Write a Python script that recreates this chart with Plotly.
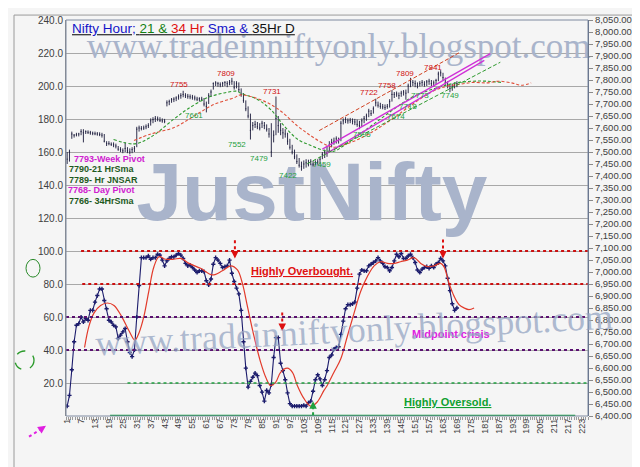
import plotly.graph_objects as go

# ---- data ----
# oscillator (left axis, 0-100), one value per hourly bar
osc_values = [
    6, 12.5, 28, 45, 55, 56, 60, 57, 59, 58,
    64, 64, 69, 73, 77, 77, 70, 65, 58, 57,
    55, 54, 47, 49, 51, 53, 45, 38.5, 36, 40,
    60, 79, 96, 96, 96, 97, 95, 96, 96, 98,
    97.5, 94.5, 91, 94, 95.5, 96.5, 96.5, 97.5, 98.5, 97.5,
    95.5, 92.5, 91, 91.5, 90, 88.5, 87, 88, 88, 87.5,
    82, 79.5, 83, 92, 96, 94.5, 92.5, 90, 90.5, 91,
    94.5, 86.5, 81.5, 77.5, 74, 64, 45, 29, 17.5, 21,
    23.5, 26, 24.5, 18.5, 14.5, 9, 15.5, 14, 19, 35.5,
    47.5, 47.5, 32, 27.5, 22, 14, 7.5, 6, 6, 6,
    6, 6, 6.5, 6, 8, 9, 15, 22, 25, 22.5,
    18.5, 22, 27.5, 35.5, 37, 40.5, 41.5, 42, 49.5, 57.5,
    65, 67.5, 67.5, 68, 69, 77.5, 86, 88.5, 88, 88,
    91, 92, 93, 94, 96, 94, 92.5, 90.5, 90, 88,
    90, 94, 98, 96.5, 98.5, 95.5, 95.5, 97, 98, 96,
    93, 88.5, 87, 89, 90, 90.5, 89.5, 91, 90, 92,
    93, 95.5, 94, 91, 83.5, 76, 68, 64, 65.5,
]

# smoothed signal of the oscillator (red line)
sig_x = [8.5, 10.4, 12.6, 15.4, 18.3, 21.2, 24.8, 27.7, 30.2, 32, 34.1, 36.3, 38.4,
         40.6, 43.5, 47, 49.9, 53.5, 58.5, 63.6, 67.9, 71.5, 74.4, 76.5, 78.7, 81.5,
         84.4, 86.6, 88.7, 90.9, 93, 95.9, 98.1, 100.2, 103.1, 106, 108.8, 111.7,
         113.1, 116, 118.9, 121.8, 124.7, 127.5, 130.4, 133.3, 136.1, 139, 141.9,
         144.7, 147.6, 150.5, 153.4, 156.3, 159.1, 162, 163.4, 165.6, 167.8, 169.9,
         172.1, 174.2, 176.4]
sig_y = [41.5, 54.5, 62.5, 67, 68.5, 67, 59.5, 51.5, 46, 50.5, 60.5, 76.5, 90.5,
         96.5, 95, 95, 95.5, 92.5, 89.5, 85.5, 88, 91, 88.5, 80.5, 66.5, 48.5,
         32.5, 23.5, 18.5, 20.5, 26.5, 29, 26.5, 18.5, 10.5, 6, 8.5, 15.5,
         18.5, 26.5, 34.5, 48.5, 62.5, 75.5, 84.5, 91, 93.5, 92.5, 92.5,
         93.5, 94.5, 96, 92.5, 90.5, 91, 92.5, 90.5, 80.5, 72.5, 67.5,
         65.5, 64.5, 65.5]

# Nifty hourly bars (right axis)
bar_high = [
    7500, 7510, 7585, 7575, 7580, 7580, 7595, 7595, 7590, 7590,
    7588, 7585, 7585, 7583, 7582, 7580, 7575, 7545, 7545, 7540,
    7540, 7535, 7525, 7520, 7515, 7540, 7520, 7515, 7520, 7525,
    7605, 7610, 7608, 7610, 7615, 7620, 7640, 7645, 7650, 7648,
    7645, 7640, 7638, 7715, 7718, 7725, 7728, 7732, 7740, 7745,
    7755, 7745, 7742, 7740, 7738, 7735, 7730, 7728, 7730, 7725,
    7710, 7745, 7760, 7790, 7795, 7792, 7790, 7792, 7795, 7795,
    7800, 7809, 7795, 7795, 7790, 7765, 7745, 7715, 7690, 7660,
    7625, 7630, 7625, 7620, 7630, 7625, 7615, 7600, 7620, 7590,
    7731, 7650, 7620, 7600, 7595, 7580, 7555, 7530, 7510, 7490,
    7475, 7460, 7465, 7470, 7468, 7470, 7462, 7465, 7470, 7480,
    7500, 7510, 7525, 7545, 7555, 7560, 7565, 7560, 7630, 7640,
    7645, 7640, 7642, 7640, 7638, 7635, 7630, 7640, 7650, 7660,
    7680, 7675, 7690, 7722, 7710, 7705, 7700, 7698, 7700, 7720,
    7758, 7750, 7752, 7748, 7755, 7758, 7760, 7785, 7809, 7800,
    7798, 7790, 7795, 7800, 7795, 7800, 7805, 7800, 7798, 7805,
    7835, 7841, 7830, 7810, 7795, 7780, 7785, 7790, 7795,
]
bar_low = [
    7450, 7460, 7555, 7560, 7565, 7565, 7570, 7540, 7575, 7575,
    7572, 7570, 7570, 7568, 7566, 7560, 7540, 7525, 7528, 7525,
    7520, 7515, 7505, 7500, 7495, 7500, 7495, 7490, 7495, 7500,
    7520, 7585, 7590, 7592, 7595, 7600, 7610, 7620, 7625, 7628,
    7625, 7622, 7620, 7690, 7695, 7705, 7708, 7712, 7718, 7722,
    7728, 7725, 7722, 7720, 7718, 7715, 7712, 7710, 7712, 7690,
    7665, 7700, 7730, 7760, 7775, 7772, 7770, 7772, 7775, 7770,
    7778, 7780, 7760, 7765, 7750, 7730, 7705, 7670, 7640, 7552,
    7590, 7600, 7595, 7590, 7600, 7595, 7585, 7560, 7479, 7540,
    7570, 7580, 7570, 7555, 7560, 7530, 7510, 7490, 7470, 7450,
    7435, 7422, 7430, 7435, 7440, 7445, 7440, 7445, 7448, 7450,
    7470, 7475, 7480, 7500, 7520, 7530, 7535, 7535, 7545, 7615,
    7620, 7618, 7620, 7615, 7612, 7605, 7595, 7605, 7620, 7630,
    7645, 7650, 7660, 7690, 7685, 7680, 7678, 7675, 7680, 7685,
    7710, 7725, 7730, 7720, 7730, 7735, 7718, 7745, 7770, 7775,
    7770, 7765, 7773, 7775, 7772, 7775, 7780, 7775, 7772, 7780,
    7795, 7815, 7800, 7780, 7765, 7749, 7755, 7765, 7770,
]
bar_close = [
    7470, 7500, 7575, 7570, 7572, 7575, 7585, 7580, 7585, 7582,
    7580, 7578, 7576, 7575, 7573, 7570, 7545, 7535, 7535, 7532,
    7530, 7525, 7512, 7510, 7505, 7515, 7505, 7500, 7510, 7515,
    7595, 7600, 7598, 7600, 7605, 7610, 7630, 7635, 7640, 7638,
    7632, 7630, 7628, 7705, 7710, 7718, 7720, 7725, 7730, 7735,
    7740, 7735, 7732, 7730, 7728, 7725, 7720, 7722, 7720, 7700,
    7690, 7735, 7750, 7785, 7788, 7785, 7780, 7786, 7790, 7785,
    7790, 7795, 7770, 7785, 7760, 7740, 7715, 7680, 7650, 7590,
    7610, 7615, 7605, 7600, 7620, 7610, 7595, 7575, 7500, 7570,
    7640, 7610, 7590, 7580, 7575, 7545, 7520, 7500, 7480, 7460,
    7445, 7440, 7450, 7455, 7450, 7460, 7450, 7455, 7458, 7470,
    7490, 7500, 7495, 7530, 7540, 7545, 7555, 7550, 7620, 7630,
    7635, 7630, 7632, 7628, 7625, 7615, 7610, 7630, 7640, 7650,
    7670, 7660, 7680, 7705, 7695, 7690, 7688, 7685, 7690, 7710,
    7740, 7740, 7742, 7735, 7745, 7750, 7745, 7775, 7795, 7790,
    7785, 7775, 7785, 7790, 7782, 7792, 7795, 7785, 7788, 7798,
    7825, 7830, 7810, 7790, 7775, 7765, 7775, 7780, 7785,
]

# 21 Hr SMA (green dashed) and 34 Hr SMA / 35Hr displaced (red)
sma21_x = [21, 29.9, 36.9, 47, 52.8, 61.4, 68.6, 74.3, 75.6, 83, 88.6, 94.5, 100.2,
           105.8, 111.7, 116, 120, 128, 135, 142, 150, 158, 165, 170, 176, 182, 188]
sma21_y = [7552, 7534, 7561, 7637, 7678, 7726, 7746, 7753, 7746, 7719, 7678, 7609, 7554,
           7528, 7507, 7503, 7525, 7580, 7630, 7680, 7730, 7760, 7780, 7790, 7795, 7795, 7790]
sma34_x = [29.8, 37, 47.1, 55.7, 64.3, 72.9, 75.8, 85.9, 93, 100.2, 106, 111.7, 116,
           122, 130, 140, 150, 158, 165, 170, 176, 182, 187, 193, 197, 201]
sma34_y = [7548, 7575, 7602, 7650, 7698, 7726, 7738, 7712, 7671, 7609, 7568, 7534, 7520,
           7535, 7570, 7630, 7700, 7750, 7775, 7782, 7790, 7788, 7795, 7787, 7778, 7788]

# trend channel end points (bar number, price)
chan_red_x, chan_red_y = [109.6, 170.6], [7589, 7917]
chan_mag1_x, chan_mag1_y = [111, 183.4], [7512, 7910]
chan_mag2_x, chan_mag2_y = [112.3, 180.8], [7491, 7882]
chan_grn_x, chan_grn_y = [104.5, 187.7], [7451, 7874]

# swing labels
high_labels = ["7755", "7809", "7731", "7722", "7758", "7809", "7841"]
high_pos = [(49.4, 7783), (69.6, 7828), (89.4, 7754), (131.3, 7746), (139, 7779),
            (146.8, 7828), (158.8, 7853)]
low_labels = ["7661", "7552", "7479", "7422", "7459", "7595", "7674", "7718", "7773", "7749"]
low_pos = [(55.8, 7652), (74.4, 7533), (83.8, 7471), (96.3, 7401), (111, 7446),
           (128.2, 7574), (142.9, 7648), (148, 7689), (153.2, 7734), (166.2, 7734)]

level_lines = [100, 80, 60, 40, 20, 0]
bar_no = list(range(1, len(osc_values) + 1))
x_ticks = list(range(1, 224, 6))

# ---- figure ----
W, H = 640, 467
ML, MR, MT, MB = 58, 60, 6, 59
PW, PH = W - ML - MR, H - MT - MB


def px2x(px):
    return (px - ML) / PW


def px2y(py):
    return (H - MB - py) / PH


WM = "#a9b4cb"
NAVY = "#1c1c6c"
SANS = "Liberation Sans, Arial"
SERIF = "Liberation Serif, Times New Roman"

fig = go.Figure()

# watermarks under the data
fig.add_trace(go.Scatter(
    x=[106.5], y=[131], mode="text", text=["JustNifty"], cliponaxis=False,
    textfont=dict(family=SANS, size=82, color=WM, weight="bold"),
    hoverinfo="skip", showlegend=False))
fig.add_trace(go.Scatter(
    x=[118], y=[222], mode="text", text=["www.tradeinniftyonly.blogspot.com"], cliponaxis=False,
    textfont=dict(family=SERIF, size=35, color=WM),
    hoverinfo="skip", showlegend=False))

# price bars
fig.add_trace(go.Ohlc(
    x=bar_no, open=bar_close, high=bar_high, low=bar_low, close=bar_close,
    yaxis="y2", tickwidth=0.25,
    increasing=dict(line=dict(color="#1a1a3a", width=0.9)),
    decreasing=dict(line=dict(color="#1a1a3a", width=0.9)),
    hoverinfo="skip", showlegend=False))

line_specs = [
    (sma21_x, sma21_y, "#2e9a2e", "3px,2px", 1.1),
    (sma34_x, sma34_y, "#e0503a", "3px,2px", 1.1),
    (chan_red_x, chan_red_y, "#d04020", "4px,2px", 1),
    (chan_mag1_x, chan_mag1_y, "#d030d8", "solid", 1.3),
    (chan_mag2_x, chan_mag2_y, "#d030d8", "solid", 1.3),
    (chan_grn_x, chan_grn_y, "#2e9a2e", "4px,2px", 1),
]
for lx, ly, col, dash, w in line_specs:
    fig.add_trace(go.Scatter(
        x=lx, y=ly, yaxis="y2", mode="lines",
        line=dict(color=col, dash=dash, width=w, shape="spline"),
        hoverinfo="skip", showlegend=False))

# oscillator + signal
fig.add_trace(go.Scatter(
    x=bar_no, y=osc_values, mode="lines+markers",
    line=dict(color=NAVY, width=1.1),
    marker=dict(symbol="cross", size=3.5, color=NAVY),
    hoverinfo="skip", showlegend=False))
fig.add_trace(go.Scatter(
    x=sig_x, y=sig_y, mode="lines",
    line=dict(color="#e23a2a", width=1.2, shape="spline"),
    hoverinfo="skip", showlegend=False))

# horizontal level lines in the oscillator pane
level_style = {
    100: ("#cc1010", "dot", 7, 225.5, 2),
    80: ("#cc1010", "dot", 7.5, 225.5, 2),
    60: ("#5a1070", "dot", 0.5, 225.5, 2),
    40: ("#5a1070", "dot", 0.5, 225.5, 2),
    20: ("#20a040", "dot", 27, 225.5, 1.6),
    0: ("#10a040", "solid", 19.5, 220, 2.5),
}
shapes = []
for lv in level_lines:
    col, dash, x0, x1, w = level_style[lv]
    shapes.append(dict(type="line", xref="x", yref="y", x0=x0, x1=x1, y0=lv, y1=lv,
                       line=dict(color=col, dash=dash, width=w)))

# arrows (dotted shafts)
for ax_, y0, y1, col in [(73.3, 106.5, 97, "#dd1010"), (93.7, 62.7, 53, "#dd1010"),
                         (163, 107, 97, "#dd1010"), (107, 0.5, 7.5, "#20a040")]:
    shapes.append(dict(type="line", xref="x", yref="y", x0=ax_, x1=ax_, y0=y0, y1=y1,
                       line=dict(color=col, dash="dot", width=2)))

# plot frame and outer chart frame
shapes.append(dict(type="rect", xref="paper", yref="paper", x0=0, x1=1, y0=0, y1=1,
                   line=dict(color="#7f8aa0", width=1)))
shapes.append(dict(type="rect", xref="paper", yref="paper",
                   x0=px2x(6), x1=px2x(634), y0=px2y(465), y1=px2y(1),
                   line=dict(color="#9a9a9a", width=1)))
# left-margin marks
shapes.append(dict(type="circle", xref="paper", yref="paper",
                   x0=px2x(18), x1=px2x(32), y0=px2y(267), y1=px2y(249),
                   line=dict(color="#2a8a2a", width=1)))
shapes.append(dict(type="circle", xref="paper", yref="paper",
                   x0=px2x(7), x1=px2x(26), y0=px2y(361), y1=px2y(342),
                   line=dict(color="#2a9a2a", width=1.3, dash="dash")))
shapes.append(dict(type="line", xref="paper", yref="paper",
                   x0=px2x(21), x1=px2x(35), y0=px2y(429), y1=px2y(420),
                   line=dict(color="#e020e0", width=2, dash="dot")))

ann = []
title_html = ("<u><span style='color:#1414c8'>Nifty Hour; </span>"
              "<span style='color:#128012'>21 &amp; </span>"
              "<span style='color:#e01010'>34 Hr </span>"
              "<span style='color:#1414c8'>Sma &amp; </span>"
              "<span style='color:#111111'>35Hr D</span></u>")
ann.append(dict(x=px2x(62), y=px2y(15), xref="paper", yref="paper", text=title_html,
                showarrow=False, xanchor="left", yanchor="middle",
                font=dict(family=SANS, size=13.5)))

for t, (bx, pv) in zip(high_labels, high_pos):
    ann.append(dict(x=bx, y=pv, xref="x", yref="y2", text=t, showarrow=False,
                    font=dict(family=SANS, size=8, color="#d01010")))
for t, (bx, pv) in zip(low_labels, low_pos):
    ann.append(dict(x=bx, y=pv, xref="x", yref="y2", text=t, showarrow=False,
                    font=dict(family=SANS, size=8, color="#1ea040")))

side_notes = [
    ("7793-Week Pivot", 64, 147, "#d020d0"),
    ("7790-21 HrSma", 59, 157, "#1e5a1e"),
    ("7789- Hr JNSAR", 59, 168, "#1e5a1e"),
    ("7768- Day Pivot", 58, 179, "#d020d0"),
    ("7766- 34HrSma", 59, 190, "#1e5a1e"),
]
for t, px, py, col in side_notes:
    ann.append(dict(x=px2x(px), y=px2y(py), xref="paper", yref="paper", text="<b>" + t + "</b>",
                    showarrow=False, xanchor="left", yanchor="middle",
                    font=dict(family=SANS, size=9, color=col)))

zone_notes = [
    ("<u><b>Highly Overbought.</b></u>", 102.4, 88, "#e01010"),
    ("<b>Midpoint crisis</b>", 166.6, 49.5, "#e020e0"),
    ("<u><b>Highly Oversold.</b></u>", 164.8, 8.7, "#10a030"),
]
for t, bx, v, col in zone_notes:
    ann.append(dict(x=bx, y=v, xref="x", yref="y", text=t, showarrow=False,
                    font=dict(family=SANS, size=11, color=col)))

# arrow heads
for ax_, tip, dy, col in [(73.3, 95.5, -8, "#dd1010"), (93.7, 51.5, -8, "#dd1010"),
                          (163, 95.5, -8, "#dd1010"), (107, 9, 8, "#20a040")]:
    ann.append(dict(x=ax_, y=tip, xref="x", yref="y", ax=0, ay=dy, text="", showarrow=True,
                    arrowhead=2, arrowsize=1, arrowwidth=1.5, arrowcolor=col))
ann.append(dict(x=px2x(38), y=px2y(418), xref="paper", yref="paper", ax=-6, ay=4, text="",
                showarrow=True, arrowhead=2, arrowsize=1, arrowwidth=1.6, arrowcolor="#e020e0"))

# tilted lower watermark
ann.append(dict(x=px2x(346), y=px2y(357), xref="paper", yref="paper",
                text="www.tradeinniftyonly.blogspot.com", showarrow=False, textangle=-3,
                font=dict(family=SERIF, size=36, color="rgba(150,165,195,0.75)")))

fig.update_layout(
    width=W, height=H,
    margin=dict(l=ML, r=MR, t=MT, b=MB),
    paper_bgcolor="#f5f5f5", plot_bgcolor="#f5f5f5",
    showlegend=False,
    shapes=shapes, annotations=ann,
    font=dict(family=SANS, size=10, color="#404040"),
    xaxis=dict(range=[0.5, 225.5], tickvals=x_ticks, tickangle=-90, showgrid=False,
               zeroline=False, showline=False, ticks="", tickfont=dict(size=9),
               minor=dict(dtick=1, tick0=0.5, ticks="outside", ticklen=3, tickcolor="#9a9a9a"),
               rangeslider=dict(visible=False)),
    yaxis=dict(range=[0, 240], tickvals=list(range(20, 241, 20)),
               ticktext=[f"{v:.1f}" for v in range(20, 241, 20)],
               showgrid=True, gridcolor="#a8a8a8", gridwidth=1, zeroline=False,
               showline=True, linecolor="#8a8a8a", ticks=""),
    yaxis2=dict(range=[6400, 8050], dtick=50, tickformat=",.2f", overlaying="y", side="right",
                showgrid=False, zeroline=False, showline=True, linecolor="#56647e",
                ticks="outside", ticklen=4, tickcolor="#8a8a8a", tickfont=dict(size=9.5)),
)

fig.write_html("out.html")
